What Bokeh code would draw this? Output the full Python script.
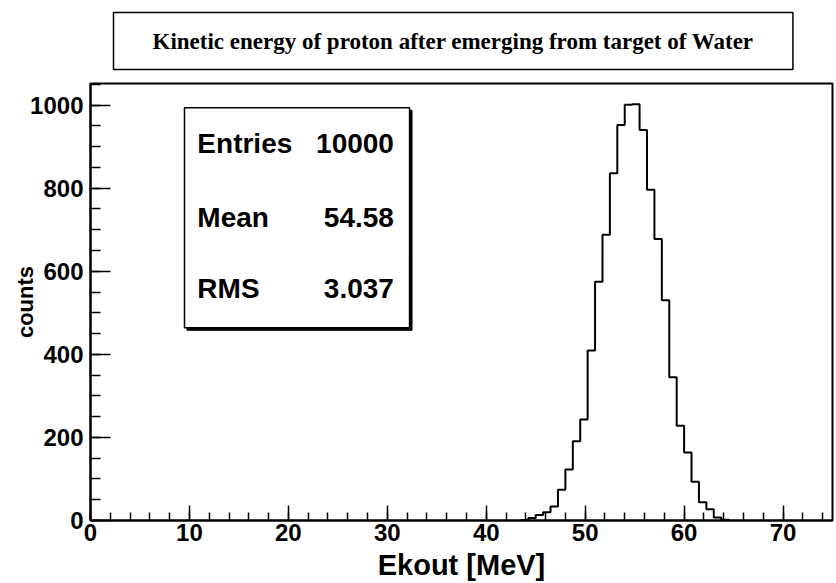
from bokeh.plotting import figure
from bokeh.models import FixedTicker, Label, BoxAnnotation, Range1d
from bokeh.embed import file_html
from bokeh.resources import INLINE

# ---- data ----
title_text = "Kinetic energy of proton after emerging from target of Water"
x_label = "Ekout [MeV]"
y_label = "counts"
bin_width = 0.75
first_edge = 43.5
counts = [1, 6, 13, 20, 34, 74, 123, 191, 243, 409, 575, 688, 836, 952,
          1001, 1002, 940, 796, 678, 530, 345, 228, 164, 93, 44, 27, 7, 2]
x_ticks = [0, 10, 20, 30, 40, 50, 60, 70]
y_ticks = [0, 200, 400, 600, 800, 1000]
stat_names = ["Entries", "Mean", "RMS"]
stat_values = ["10000", "54.58", "3.037"]

# ---- style ----
FONT = "Liberation Sans"
x_max = 75
y_max = 1.05 * max(counts)

p = figure(width=836, height=583, output_backend="svg", toolbar_location=None,
           x_range=Range1d(0, x_max), y_range=Range1d(0, y_max),
           min_border_left=90, min_border_right=4, min_border_top=5,
           min_border_bottom=62)
p.background_fill_color = "white"
p.border_fill_color = "white"
p.outline_line_color = "black"
p.outline_line_width = 2
p.xgrid.visible = False
p.ygrid.visible = False

# ---- title box ----
p.title.text = title_text
p.title.align = "left"
p.title.vertical_align = "top"
p.title.offset = 23
p.title.standoff = 24
p.title.text_font = "Liberation Serif"
p.title.text_font_style = "bold"
p.title.text_font_size = "23px"
p.title.text_color = "black"
p.title.background_fill_color = "white"
p.title.border_line_color = "black"
p.title.border_line_width = 1.5
p.title.padding = (39, 39, 16, 16)

edges = [first_edge + i * bin_width for i in range(len(counts) + 1)]
xs = [edges[0]] + edges
ys = [0] + counts + [0]
p.step(xs, ys, mode="after", line_color="black", line_width=2)

for ax, ticks, minor in ((p.xaxis[0], x_ticks, [v for v in range(0, x_max + 1, 2)]),
                         (p.yaxis[0], y_ticks, [v for v in range(0, 1051, 50)])):
    ax.ticker = FixedTicker(ticks=ticks, minor_ticks=minor)
    ax.axis_line_color = "black"
    ax.axis_line_width = 2
    ax.major_tick_line_color = "black"
    ax.minor_tick_line_color = "black"
    ax.major_tick_line_width = 1.5
    ax.minor_tick_line_width = 1.5
    ax.major_tick_out = 0
    ax.minor_tick_out = 0
    ax.major_label_text_font = FONT
    ax.major_label_text_font_style = "bold"
    ax.major_label_text_font_size = "24px"
    ax.major_label_text_color = "black"
    ax.axis_label_text_font = FONT
    ax.axis_label_text_font_style = "bold"
    ax.axis_label_text_color = "black"

p.xaxis.major_tick_in = 15
p.xaxis.minor_tick_in = 8
p.yaxis.major_tick_in = 20
p.yaxis.minor_tick_in = 10
p.xaxis.major_label_standoff = 3
p.yaxis.major_label_standoff = 7
p.xaxis.axis_label = x_label
p.xaxis.axis_label_text_font_size = "29px"
p.xaxis.axis_label_standoff = 5
p.yaxis.axis_label = y_label
p.yaxis.axis_label_text_font_size = "22px"
p.yaxis.axis_label_standoff = -11

# ---- stats box ----
box_l, box_r, box_t, box_b = 9.5, 32.25, 993.5, 464
p.add_layout(BoxAnnotation(left=box_l + 0.25, right=box_r + 0.25, top=box_t - 6, bottom=box_b - 6,
                           fill_color="black", fill_alpha=1, line_color="black", line_alpha=1))
p.add_layout(BoxAnnotation(left=box_l, right=box_r, top=box_t, bottom=box_b,
                           fill_color="white", fill_alpha=1, line_color="black", line_width=1.5, line_alpha=1))
rows_y = [907, 730, 559]
for name, val, yy in zip(stat_names, stat_values, rows_y):
    p.add_layout(Label(x=10.8, y=yy, text=name, text_font=FONT, text_font_style="bold",
                       text_font_size="28px", text_baseline="middle", text_align="left",
                       text_color="black"))
    p.add_layout(Label(x=30.67, y=yy, text=val, text_font=FONT, text_font_style="bold",
                       text_font_size="28px", text_baseline="middle", text_align="right",
                       text_color="black"))

open("out.html", "w").write(file_html(p, INLINE))
